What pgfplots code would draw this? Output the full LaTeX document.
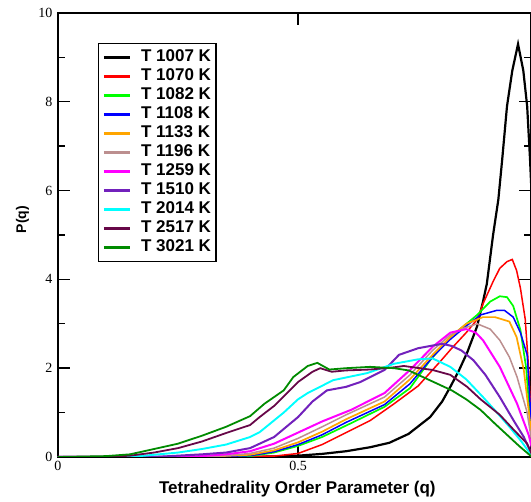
\documentclass[border=0pt]{standalone}
\usepackage{pgfplots}
\pgfplotsset{compat=1.18}
\usepackage{fontspec}
\setmainfont{Liberation Serif}
\setsansfont{Liberation Sans}
\definecolor{gbrown}{RGB}{188,143,143}
\definecolor{gorange}{RGB}{255,165,0}
\definecolor{gindigo}{RGB}{114,33,188}
\definecolor{gmaroon}{RGB}{103,7,72}
\definecolor{ggreen4}{RGB}{0,139,0}
\definecolor{ggreen}{RGB}{0,255,0}
\definecolor{gcyan}{RGB}{0,255,255}
\definecolor{gmagenta}{RGB}{255,0,255}
\begin{document}
\begin{tikzpicture}
\begin{axis}[
  scale only axis, width=473pt, height=444pt,
  xmin=0, xmax=0.985, ymin=0, ymax=10,
  xtick={0,0.5}, xticklabels={0,0.5},
  ytick={0,2,4,6,8,10}, minor ytick={1,3,5,7,9},
  axis line style={line width=1.6pt},
  major tick length=12pt, minor tick length=7pt,
  every tick/.style={black, line width=1.4pt},
  tick align=inside,
  /pgf/number format/assume math mode=true,
  tick label style={font=\fontsize{14}{14}\selectfont},
  yticklabel style={xshift=-2pt},
  xticklabel style={yshift=-1pt},
  xlabel={Tetrahedrality Order Parameter (q)},
  ylabel={P(q)},
  x label style={at={(axis description cs:0.506,-0.072)},anchor=center,font=\sffamily\bfseries\fontsize{17}{17}\selectfont},
  y label style={at={(axis description cs:-0.075,0.535)},anchor=center,font=\sffamily\bfseries\fontsize{14}{14}\selectfont},
  legend cell align=left,
  legend image code/.code={\draw[#1] (0pt,0pt) -- (26pt,0pt);},
  legend image post style={line width=2.4pt},
  legend style={at={(axis description cs:0.0846,0.932)}, anchor=north west,
    draw=black, line width=1.3pt, inner xsep=4pt, inner ysep=5pt,
    font=\sffamily\bfseries\fontsize{17}{17}\selectfont,
    row sep=1.5pt,
    nodes={inner sep=1pt, text height=12pt, text depth=3.5pt}},
]
\addplot[black, line width=2.2pt] table {
x y
0 0
0.3 0
0.45 0.01
0.5 0.03
0.55 0.07
0.6 0.13
0.65 0.22
0.69 0.32
0.73 0.52
0.775 0.9
0.8 1.25
0.817 1.58
0.835 1.95
0.852 2.35
0.873 2.95
0.885 3.5
0.893 3.9
0.906 5.0
0.917 5.8
0.925 6.7
0.935 7.9
0.946 8.7
0.958 9.3
0.969 8.7
0.977 7.9
0.983 6.7
0.99 5.0
};
\addlegendentry{\hspace{9pt}T 1007 K}
\addplot[red, line width=1.5pt] table {
x y
0 0
0.3 0
0.45 0.02
0.5 0.08
0.55 0.28
0.6 0.55
0.65 0.82
0.7 1.2
0.75 1.6
0.8 2.2
0.82 2.45
0.85 2.8
0.873 3.1
0.885 3.45
0.906 3.95
0.92 4.25
0.935 4.4
0.946 4.45
0.955 4.2
0.963 3.8
0.973 3.1
0.98 2.0
0.987 0.5
};
\addlegendentry{\hspace{9pt}T 1070 K}
\addplot[ggreen, line width=1.7pt] table {
x y
0 0
0.3 0
0.4 0.02
0.45 0.1
0.5 0.25
0.55 0.45
0.61 0.76
0.68 1.13
0.733 1.55
0.775 2.18
0.817 2.7
0.845 2.95
0.873 3.2
0.9 3.5
0.92 3.62
0.935 3.6
0.948 3.4
0.963 2.86
0.975 2.0
0.987 0.3
};
\addlegendentry{\hspace{9pt}T 1082 K}
\addplot[blue, line width=1.5pt] table {
x y
0 0
0.3 0
0.4 0.03
0.45 0.12
0.5 0.28
0.55 0.5
0.6 0.78
0.68 1.18
0.733 1.65
0.78 2.25
0.817 2.65
0.85 2.95
0.88 3.2
0.913 3.3
0.93 3.3
0.948 3.15
0.963 2.8
0.977 2.3
0.987 0.5
};
\addlegendentry{\hspace{9pt}T 1108 K}
\addplot[gorange, line width=1.7pt] table {
x y
0 0
0.3 0
0.4 0.05
0.45 0.15
0.5 0.33
0.55 0.57
0.6 0.85
0.68 1.25
0.733 1.75
0.78 2.3
0.817 2.7
0.85 3.0
0.885 3.15
0.91 3.15
0.94 3.05
0.955 2.7
0.97 1.96
0.98 1.06
0.987 0.4
};
\addlegendentry{\hspace{9pt}T 1133 K}
\addplot[gbrown, line width=1.5pt] table {
x y
0 0
0.3 0
0.35 0.03
0.4 0.08
0.45 0.2
0.5 0.42
0.55 0.68
0.6 0.95
0.68 1.35
0.733 1.85
0.78 2.4
0.817 2.75
0.845 2.9
0.873 3.0
0.9 2.88
0.92 2.63
0.94 2.25
0.956 1.8
0.977 1.0
0.987 0.3
};
\addlegendentry{\hspace{9pt}T 1196 K}
\addplot[gmagenta, line width=2pt] table {
x y
0 0
0.25 0
0.3 0.02
0.35 0.06
0.4 0.13
0.45 0.3
0.5 0.55
0.55 0.8
0.61 1.06
0.68 1.44
0.733 1.96
0.78 2.48
0.817 2.8
0.85 2.88
0.87 2.8
0.885 2.63
0.92 2.03
0.956 1.2
0.98 0.5
0.987 0.2
};
\addlegendentry{\hspace{9pt}T 1259 K}
\addplot[gindigo, line width=2pt] table {
x y
0 0
0.2 0
0.25 0.03
0.3 0.06
0.35 0.1
0.4 0.2
0.45 0.45
0.5 0.9
0.53 1.25
0.56 1.5
0.6 1.58
0.63 1.69
0.68 1.96
0.71 2.3
0.75 2.45
0.8 2.55
0.82 2.5
0.84 2.4
0.865 2.18
0.89 1.85
0.92 1.35
0.95 0.8
0.97 0.45
0.987 0.05
};
\addlegendentry{\hspace{9pt}T 1510 K}
\addplot[gcyan, line width=1.9pt] table {
x y
0 0
0.15 0
0.2 0.05
0.25 0.1
0.3 0.18
0.35 0.28
0.4 0.45
0.42 0.56
0.47 1.0
0.5 1.3
0.52 1.44
0.573 1.73
0.644 1.89
0.7 2.1
0.75 2.2
0.78 2.22
0.817 2.03
0.85 1.75
0.885 1.35
0.91 1.05
0.94 0.68
0.965 0.35
0.987 0.02
};
\addlegendentry{\hspace{9pt}T 2014 K}
\addplot[gmaroon, line width=1.8pt] table {
x y
0 0
0.1 0
0.15 0.03
0.2 0.1
0.25 0.2
0.3 0.35
0.35 0.54
0.4 0.72
0.42 0.9
0.45 1.15
0.5 1.69
0.53 1.92
0.546 2.0
0.57 1.92
0.6 1.95
0.65 1.97
0.7 2.02
0.72 2.05
0.78 1.96
0.817 1.85
0.852 1.58
0.88 1.3
0.92 0.95
0.95 0.6
0.977 0.3
0.987 0.05
};
\addlegendentry{\hspace{9pt}T 2517 K}
\addplot[ggreen4, line width=1.8pt] table {
x y
0 0
0.1 0.02
0.15 0.06
0.2 0.18
0.25 0.3
0.3 0.48
0.35 0.68
0.4 0.92
0.43 1.2
0.47 1.5
0.49 1.8
0.52 2.05
0.54 2.12
0.565 1.97
0.6 2.0
0.65 2.03
0.7 2.0
0.73 1.95
0.76 1.8
0.8 1.6
0.82 1.5
0.85 1.3
0.88 1.06
0.91 0.75
0.94 0.45
0.96 0.25
0.987 0.0
};
\addlegendentry{\hspace{9pt}T 3021 K}
\coordinate (sw) at (rel axis cs:0,0);
\coordinate (ne) at (rel axis cs:1,1);
\end{axis}
\pgfresetboundingbox
\path ([shift={(-58pt,-45pt)}]sw) rectangle ([shift={(0pt,13pt)}]ne);
\end{tikzpicture}
\end{document}
